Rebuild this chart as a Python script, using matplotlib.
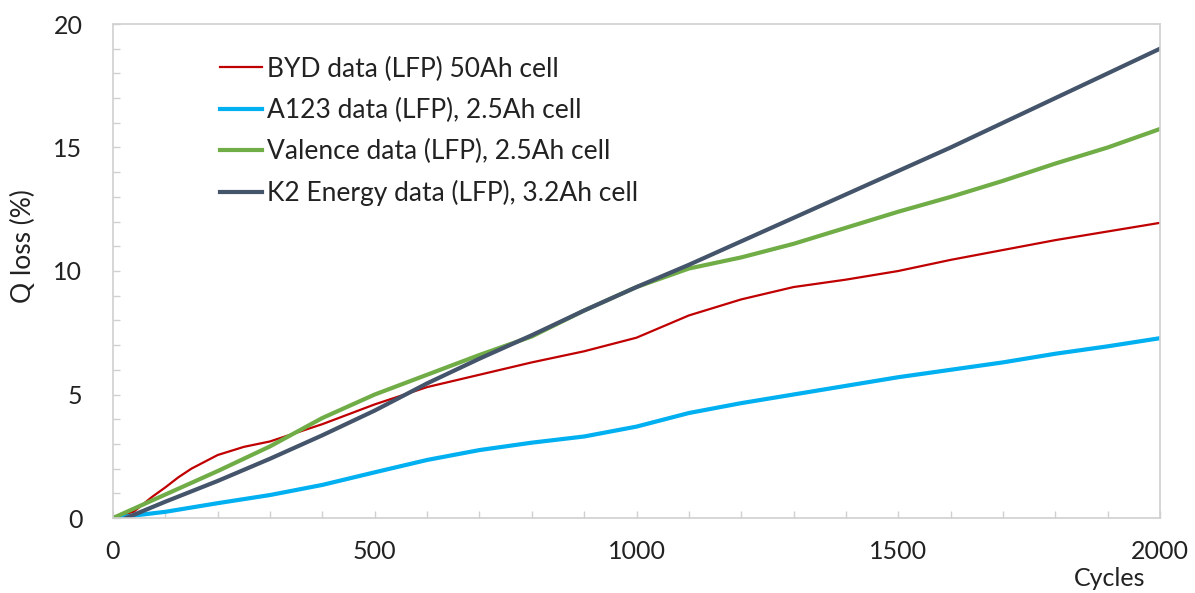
import matplotlib
matplotlib.use('Agg')
import matplotlib.pyplot as plt
from matplotlib.ticker import MultipleLocator

plt.rcParams['font.family'] = ['Lato', 'DejaVu Sans']

# Values
byd_cycles = [0, 40, 75, 100, 125, 150, 200, 250, 300, 400, 500, 600, 700, 800, 900,
              1000, 1100, 1200, 1300, 1400, 1500, 1600, 1700, 1800, 1900, 2000]
byd_loss = [0, 0.26, 0.86, 1.24, 1.65, 2.0, 2.55, 2.88, 3.1, 3.8, 4.6, 5.3, 5.8, 6.3,
            6.75, 7.3, 8.2, 8.85, 9.35, 9.65, 10.0, 10.45, 10.85, 11.25, 11.6, 11.95]

a123_cycles = [0, 100, 200, 300, 400, 500, 600, 700, 800, 900, 1000, 1100, 1200,
               1300, 1400, 1500, 1600, 1700, 1800, 1900, 2000]
a123_loss = [0, 0.25, 0.6, 0.93, 1.34, 1.85, 2.35, 2.75, 3.05, 3.3, 3.7, 4.25, 4.65,
             5.0, 5.35, 5.7, 6.0, 6.3, 6.65, 6.95, 7.28]

valence_cycles = [0, 100, 200, 300, 400, 500, 600, 700, 800, 900, 1000, 1100, 1200,
                  1300, 1400, 1500, 1600, 1700, 1800, 1900, 2000]
valence_loss = [0, 0.95, 1.9, 2.9, 4.05, 5.0, 5.8, 6.6, 7.35, 8.4, 9.35, 10.1, 10.55,
                11.1, 11.75, 12.4, 13.0, 13.65, 14.35, 15.0, 15.75]

k2_cycles = [25, 100, 200, 300, 400, 500, 600, 700, 800, 900, 1000, 1100, 1200,
             1300, 1400, 1500, 1600, 1700, 1800, 1900, 2000]
k2_loss = [0, 0.66, 1.5, 2.4, 3.35, 4.35, 5.45, 6.45, 7.4, 8.4, 9.35, 10.25, 11.2,
           12.15, 13.1, 14.05, 15.0, 16.0, 17.0, 18.0, 19.0]

labels = ['BYD data (LFP) 50Ah cell',
          'A123 data (LFP), 2.5Ah cell',
          'Valence data (LFP), 2.5Ah cell',
          'K2 Energy data (LFP), 3.2Ah cell']

fig = plt.figure(figsize=(11.95, 5.93), dpi=100)
ax = fig.add_axes([113 / 1195, 1 - 518 / 593, 1047 / 1195, 494 / 593])

ax.plot(byd_cycles, byd_loss, color='#C00000', lw=1.6, label=labels[0])
ax.plot(a123_cycles, a123_loss, color='#00B0F0', lw=3, label=labels[1])
ax.plot(valence_cycles, valence_loss, color='#70AD47', lw=3, label=labels[2])
ax.plot(k2_cycles, k2_loss, color='#44546A', lw=3, label=labels[3])

ax.set_xlim(0, 2000)
ax.set_ylim(0, 20)
ax.xaxis.set_major_locator(MultipleLocator(500))
ax.xaxis.set_minor_locator(MultipleLocator(100))
ax.yaxis.set_major_locator(MultipleLocator(5))
ax.yaxis.set_minor_locator(MultipleLocator(1))

for s in ax.spines.values():
    s.set_color('#D0D0D0')
    s.set_linewidth(1.2)
ax.tick_params(which='both', direction='in', length=5, color='#D0D0D0', width=1,
               labelsize=18, labelcolor='#222222')
ax.tick_params(axis='x', which='major', pad=16)
ax.tick_params(axis='y', which='major', pad=22)

fig.text(23 / 1195, 1 - 246 / 593, 'Q loss (%)', rotation=90, fontsize=19,
         color='#222222', ha='center', va='center')
fig.text(1110 / 1195, 1 - 578 / 593, 'Cycles', fontsize=18, color='#222222',
         ha='center', va='center')

ax.legend(loc='upper left', bbox_to_anchor=(0.102, 0.934), frameon=False,
          fontsize=19, handlelength=1.6, handletextpad=0.19, labelspacing=0.61,
          borderpad=0, borderaxespad=0, labelcolor='#222222')

fig.savefig('out.png', dpi=100)
